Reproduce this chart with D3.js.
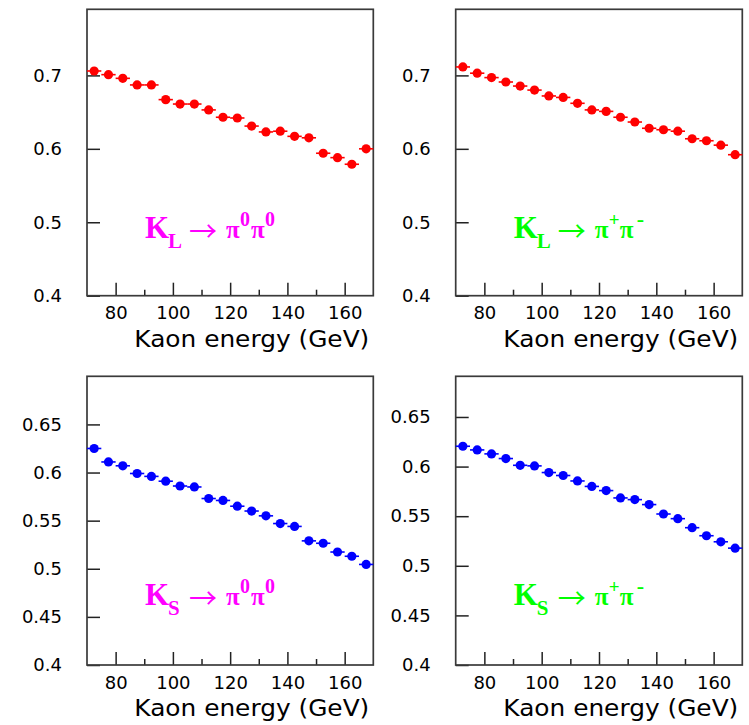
<!DOCTYPE html>
<html>
<head>
<meta charset="utf-8">
<script src="https://cdn.jsdelivr.net/npm/d3@7"></script>
<style>
  html, body { margin: 0; padding: 0; background: #ffffff; }
  svg { display: block; }
</style>
</head>
<body>
<svg id="chart" width="749" height="725"></svg>
<script>
// Kaon energy bin centres (5 GeV bins from 70 to 170 GeV)
const energy = [72.5, 77.5, 82.5, 87.5, 92.5, 97.5, 102.5, 107.5, 112.5, 117.5,
                122.5, 127.5, 132.5, 137.5, 142.5, 147.5, 152.5, 157.5, 162.5, 167.5];
const binHalfWidth = 2.5;

// Measured fraction per energy bin, one list per decay mode
const klNeutral = [0.706, 0.701, 0.696, 0.687, 0.687, 0.667, 0.661, 0.661, 0.653, 0.643,
                   0.642, 0.631, 0.623, 0.624, 0.617, 0.615, 0.594, 0.588, 0.579, 0.600];
const klCharged = [0.7115, 0.703, 0.697, 0.691, 0.6855, 0.680, 0.672, 0.670, 0.662, 0.653,
                   0.651, 0.643, 0.6365, 0.628, 0.626, 0.624, 0.6137, 0.611, 0.605, 0.592];
const ksNeutral = [0.625, 0.611, 0.607, 0.599, 0.596, 0.591, 0.586, 0.585, 0.573, 0.571,
                   0.565, 0.560, 0.555, 0.547, 0.544, 0.529, 0.5265, 0.5174, 0.513, 0.5045];
const ksCharged = [0.6205, 0.6168, 0.6128, 0.6081, 0.6013, 0.6007, 0.594, 0.591, 0.5855, 0.580,
                   0.5758, 0.5684, 0.5667, 0.5617, 0.5522, 0.5475, 0.5384, 0.5303, 0.5242, 0.5178];

// Axis ticks and labels
const xTicks = [80, 100, 120, 140, 160];
const xMinorTicks = [90, 110, 130, 150];
const yTicksTop = [0.4, 0.5, 0.6, 0.7];
const yTickLabelsTop = ["0.4", "0.5", "0.6", "0.7"];
const yTicksBottom = [0.4, 0.45, 0.5, 0.55, 0.6, 0.65];
const yTickLabelsBottom = ["0.4", "0.45", "0.5", "0.55", "0.6", "0.65"];
const xTitle = "Kaon energy (GeV)";

// Decay-mode labels: kaon subscript and pion charges
const modeSub = ["L", "L", "S", "S"];
const modeCharges = [["0", "0"], ["+", "-"], ["0", "0"], ["+", "-"]];

const svg = d3.select("#chart");
svg.append("rect").attr("width", 749).attr("height", 725).attr("fill", "#ffffff");

const panels = [
  { values: klNeutral, mark: "#ff0000", text: "#ff00ff", yDomain: [0.4, 0.79],  ticks: yTicksTop,    labels: yTickLabelsTop,    x0: 87,    x1: 373.3, y0: 9.3,   y1: 295.7 },
  { values: klCharged, mark: "#ff0000", text: "#00ff00", yDomain: [0.4, 0.79],  ticks: yTicksTop,    labels: yTickLabelsTop,    x0: 455.7, x1: 742.3, y0: 9.3,   y1: 295.7 },
  { values: ksNeutral, mark: "#0000ff", text: "#ff00ff", yDomain: [0.4, 0.70],  ticks: yTicksBottom, labels: yTickLabelsBottom, x0: 87,    x1: 373.3, y0: 376.3, y1: 665 },
  { values: ksCharged, mark: "#0000ff", text: "#00ff00", yDomain: [0.4, 0.691], ticks: yTicksBottom, labels: yTickLabelsBottom, x0: 455.7, x1: 742.3, y0: 376.3, y1: 665 }
];

panels.forEach((p, i) => {
  const x = d3.scaleLinear().domain([70, 170]).range([p.x0, p.x1]);
  const y = d3.scaleLinear().domain(p.yDomain).range([p.y1, p.y0]);
  const g = svg.append("g");

  // y axis: ticks point into the frame
  const yAxis = d3.axisLeft(y)
    .tickValues(p.ticks)
    .tickFormat((d, k) => p.labels[k])
    .tickSizeInner(-13).tickSizeOuter(0).tickPadding(25);
  const ya = g.append("g").attr("transform", `translate(${p.x0},0)`).call(yAxis);

  // x axis: major and minor ticks point up into the frame
  const xAxis = d3.axisBottom(x)
    .tickValues(xTicks)
    .tickFormat(d3.format("d"))
    .tickSizeInner(-13).tickSizeOuter(0).tickPadding(11);
  const xa = g.append("g").attr("transform", `translate(0,${p.y1})`).call(xAxis);
  const xm = g.append("g").attr("transform", `translate(0,${p.y1})`)
    .call(d3.axisBottom(x).tickValues(xMinorTicks).tickFormat("").tickSizeInner(-6).tickSizeOuter(0));

  [ya, xa, xm].forEach(a => {
    a.select(".domain").remove();
    a.selectAll(".tick line").attr("stroke", "#222").attr("stroke-width", 1.5);
    a.selectAll(".tick text")
      .attr("fill", "#000")
      .style("font-family", "'DejaVu Sans', sans-serif")
      .style("font-size", "18px");
  });

  // frame
  g.append("rect")
    .attr("x", p.x0).attr("y", p.y0)
    .attr("width", p.x1 - p.x0).attr("height", p.y1 - p.y0)
    .attr("fill", "none").attr("stroke", "#3a3a3a").attr("stroke-width", 1.7);

  // axis title
  g.append("text")
    .attr("x", p.x1 - 4).attr("y", p.y1 + 51)
    .attr("text-anchor", "end")
    .attr("textLength", 235).attr("lengthAdjust", "spacingAndGlyphs")
    .style("font-family", "'DejaVu Sans', sans-serif")
    .style("font-size", "23px")
    .attr("fill", "#000")
    .text(xTitle);

  // data points with horizontal bin-width bars
  const pts = g.append("g");
  pts.selectAll("line")
    .data(p.values)
    .join("line")
    .attr("x1", (d, k) => x(energy[k] - binHalfWidth))
    .attr("x2", (d, k) => x(energy[k] + binHalfWidth))
    .attr("y1", d => y(d)).attr("y2", d => y(d))
    .attr("stroke", p.mark).attr("stroke-width", 1.6);
  pts.selectAll("circle")
    .data(p.values)
    .join("circle")
    .attr("cx", (d, k) => x(energy[k]))
    .attr("cy", d => y(d))
    .attr("r", 4.6)
    .attr("fill", p.mark);

  // decay-mode label, e.g. K_L -> pi0 pi0
  const lx = p.x0 + 58, ly = p.y0 + 229;
  const t = g.append("text")
    .attr("x", lx).attr("y", ly)
    .attr("fill", p.text)
    .style("font-family", "'Liberation Serif', 'Times New Roman', serif")
    .style("font-weight", "bold");
  const ch = modeCharges[i];
  const neutral = ch[0] === "0";
  t.append("tspan").attr("x", lx).attr("y", ly).style("font-size", "31px").text("K");
  t.append("tspan").attr("x", lx + 23).attr("y", ly + 10).style("font-size", "21px").text(modeSub[i]);
  t.append("tspan").attr("x", lx + 44).attr("y", ly + 4)
    .style("font-family", "'Noto Sans CJK JP', 'DejaVu Sans', sans-serif")
    .style("font-size", "28px").style("font-weight", "normal").text("\u2192");
  t.append("tspan").attr("x", lx + 81).attr("y", ly).style("font-size", "25px").text("\u03c0");
  t.append("tspan").attr("x", lx + 95).attr("y", ly - 12).style("font-size", neutral ? "20px" : "19px").text(ch[0]);
  t.append("tspan").attr("x", lx + 106).attr("y", ly).style("font-size", "25px").text("\u03c0");
  t.append("tspan").attr("x", lx + (neutral ? 120 : 123)).attr("y", ly - 12).style("font-size", neutral ? "20px" : "22px").text(ch[1]);
});
</script>
</body>
</html>
